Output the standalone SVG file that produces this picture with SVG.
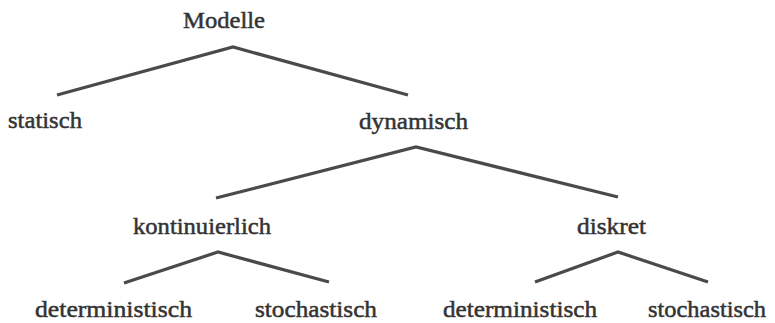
<svg xmlns="http://www.w3.org/2000/svg" width="775" height="323" viewBox="0 0 775 323">
  <style>
    .lbl { font-family: "Liberation Serif", "Times New Roman", serif; font-size: 24px; fill: #333; stroke: #333; stroke-width: 0.5; }
    .edge { fill: none; stroke: #4a4a4a; stroke-width: 3.2; stroke-linejoin: miter; stroke-linecap: butt; }
  </style>
  <rect width="775" height="323" fill="#ffffff"/>

  <!-- branching connectors -->
  <g id="connectors">
    <polyline class="edge" points="57,95 233,47 408,95"/>
    <polyline class="edge" points="216,198 416,147 618,197"/>
    <polyline class="edge" points="124,283 218,252 329,282"/>
    <polyline class="edge" points="535,282 618,252 708,282"/>
  </g>

  <g id="modelle"><text class="lbl" x="183" y="28" textLength="82" lengthAdjust="spacingAndGlyphs">Modelle</text></g>
  <g id="statisch"><text class="lbl" x="8" y="128" textLength="74" lengthAdjust="spacingAndGlyphs">statisch</text></g>
  <g id="dynamisch"><text class="lbl" x="359" y="129" textLength="109" lengthAdjust="spacingAndGlyphs">dynamisch</text></g>
  <g id="kontinuierlich"><text class="lbl" x="133" y="234" textLength="138" lengthAdjust="spacingAndGlyphs">kontinuierlich</text></g>
  <g id="diskret"><text class="lbl" x="577" y="234" textLength="69" lengthAdjust="spacingAndGlyphs">diskret</text></g>
  <g id="kont-deterministisch"><text class="lbl" x="35" y="317" textLength="157" lengthAdjust="spacingAndGlyphs">deterministisch</text></g>
  <g id="kont-stochastisch"><text class="lbl" x="255" y="317" textLength="122" lengthAdjust="spacingAndGlyphs">stochastisch</text></g>
  <g id="disk-deterministisch"><text class="lbl" x="443" y="317" textLength="154" lengthAdjust="spacingAndGlyphs">deterministisch</text></g>
  <g id="disk-stochastisch"><text class="lbl" x="648" y="317" textLength="118" lengthAdjust="spacingAndGlyphs">stochastisch</text></g>
</svg>
